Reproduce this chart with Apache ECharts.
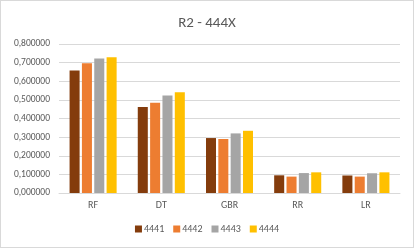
<!DOCTYPE html>
<html><head><meta charset="utf-8">
<script src="https://cdn.jsdelivr.net/npm/echarts@6/dist/echarts.min.js"></script>
<style>html,body{margin:0;padding:0;background:#fff}#c{position:absolute;left:0;top:0;width:412px;height:246px;border:1px solid #d9d9d9;box-sizing:content-box}</style>
</head><body><div id="c"></div>
<script>
var categories = ['RF','DT','GBR','RR','LR'];
var seriesNames = ['4441','4442','4443','4444'];
var s4441 = [0.658, 0.462, 0.295, 0.095, 0.094];
var s4442 = [0.696, 0.485, 0.290, 0.088, 0.088];
var s4443 = [0.722, 0.523, 0.320, 0.107, 0.106];
var s4444 = [0.729, 0.541, 0.334, 0.111, 0.111];
var colors = ['#843C0C','#ED7D31','#A5A5A5','#FFC000'];
var values = [s4441, s4442, s4443, s4444];
var chart = echarts.init(document.getElementById('c'));
var font = 'Calibri, Carlito, "Open Sans", "Liberation Sans", sans-serif';
chart.setOption({
  animation:false,
  title:{text:'R2 - 444X',left:'center',top:10,textStyle:{color:'#595959',fontSize:15,fontWeight:'normal',fontFamily:font}},
  legend:{bottom:8,left:'center',itemWidth:7,itemHeight:7,itemGap:9,icon:'rect',
    textStyle:{color:'#595959',fontSize:10,fontFamily:font,padding:[0,0,0,-3]},data:seriesNames},
  grid:{left:58,right:13,top:43,bottom:54},
  xAxis:{type:'category',data:categories,axisTick:{show:false},
    axisLine:{lineStyle:{color:'#d9d9d9'}},
    axisLabel:{color:'#595959',fontSize:10,fontFamily:font,margin:7}},
  yAxis:{type:'value',min:0,max:0.8,interval:0.1,
    axisLabel:{color:'#595959',fontSize:9.5,fontFamily:font,margin:9,formatter:function(v){return v.toFixed(6).replace('.',',');}},
    splitLine:{lineStyle:{color:'#d9d9d9'}}},
  series: seriesNames.map(function(n,i){return {name:n,type:'bar',data:values[i],barGap:'23%',barCategoryGap:'31%',itemStyle:{color:colors[i]}};})
});
</script></body></html>
